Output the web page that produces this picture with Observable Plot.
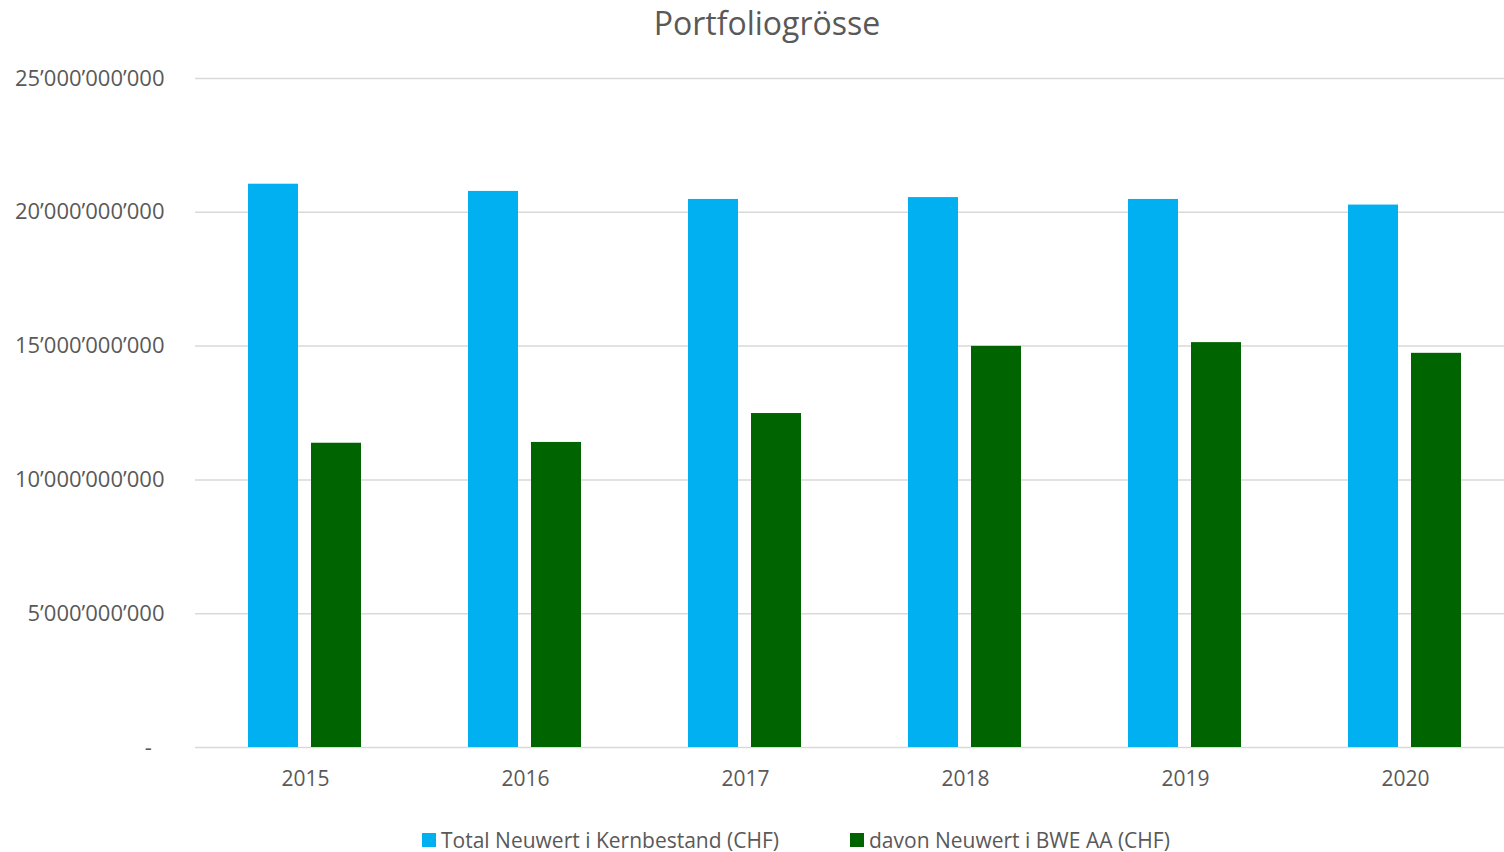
<!DOCTYPE html>
<html>
<head>
<meta charset="utf-8">
<script src="https://cdn.jsdelivr.net/npm/d3@7"></script>
<script src="https://cdn.jsdelivr.net/npm/@observablehq/plot@0.6"></script>
<style>
  html, body { margin: 0; background: #fff; font-family: "Open Sans", sans-serif; overflow: hidden; }
  #wrap { width: 1504px; height: 852px; position: relative; }
  #title { height: 60px; text-align: center; font-size: 32px; color: #595959; line-height: 46px; padding-left: 30px; box-sizing: border-box; }
  #chart { width: 1504px; height: 740px; overflow: hidden; }
  #chart svg { max-width: none !important; }
  #legend { position: absolute; top: 828px; left: 0; width: 1504px; height: 24px; font-size: 21px; color: #595959; }
  .item { position: absolute; top: 0; display: flex; align-items: center; height: 24px; line-height: 24px; white-space: nowrap; }
  .sw { width: 14px; height: 14px; margin-right: 5px; display: inline-block; }
</style>
</head>
<body>
<div id="wrap">
  <div id="title">Portfoliogrösse</div>
  <div id="chart"></div>
  <div id="legend"></div>
</div>
<script>
const years = ["2015", "2016", "2017", "2018", "2019", "2020"];
const seriesNames = ["Total Neuwert i Kernbestand (CHF)", "davon Neuwert i BWE AA (CHF)"];
const totalValues = [21.05e9, 20.78e9, 20.48e9, 20.55e9, 20.48e9, 20.27e9];
const davonValues = [11.37e9, 11.40e9, 12.48e9, 14.99e9, 15.13e9, 14.73e9];
const seriesColors = ["#00B0F0", "#006400"];
const yTicks = [0, 5e9, 10e9, 15e9, 20e9, 25e9];

const rows = [];
years.forEach((y, i) => {
  rows.push({year: y, series: seriesNames[0], value: totalValues[i]});
  rows.push({year: y, series: seriesNames[1], value: davonValues[i]});
});

const fmt = d => d === 0 ? "-\u2007" : d3.format(",")(d).replace(/,/g, "\u2019");

const chart = Plot.plot({
  width: 1516,
  height: 740,
  marginTop: 18,
  marginBottom: 53,
  marginLeft: 193,
  marginRight: 0,
  style: {fontFamily: "'Open Sans', sans-serif", fontSize: "21px", color: "#595959", background: "#fff", maxWidth: "none"},
  fx: {domain: years, padding: 0, label: null},
  x: {domain: seriesNames, paddingInner: 0.206, paddingOuter: 0.84, axis: null},
  y: {domain: [0, 25e9], label: null},
  color: {domain: seriesNames, range: seriesColors},
  marks: [
    Plot.ruleY(yTicks, {stroke: "#d9d9d9", strokeWidth: 1.5}),
    Plot.barY(rows, {fx: "year", x: "series", y: "value", fill: "series"}),
    Plot.axisY(yTicks, {tickSize: 0, tickPadding: 31, tickFormat: fmt, label: null, fontSize: 22, fill: "#595959"}),
    Plot.axisFx({anchor: "bottom", tickSize: 0, tickPadding: 24, label: null, fontSize: 21, fill: "#595959"})
  ]
});
document.getElementById("chart").appendChild(chart);

const legend = document.getElementById("legend");
const lx = [422, 850];
seriesNames.forEach((s, i) => {
  const it = document.createElement("div");
  it.className = "item";
  it.style.left = lx[i] + "px";
  it.innerHTML = `<span class="sw" style="background:${seriesColors[i]}"></span><span>${s}</span>`;
  legend.appendChild(it);
});
</script>
</body>
</html>
